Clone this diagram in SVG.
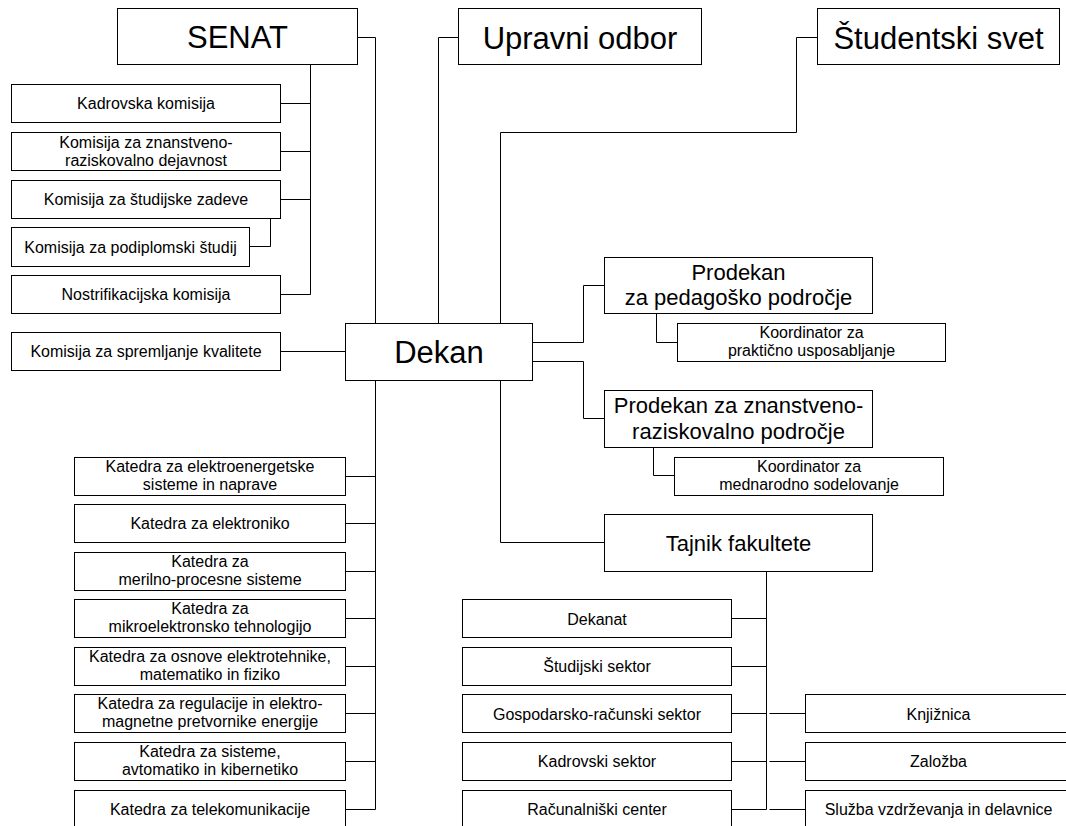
<svg xmlns="http://www.w3.org/2000/svg" width="1066" height="826" viewBox="0 0 1066 826">
<style>
.box{fill:#fff;stroke:#000;stroke-width:1}
.ln{fill:none;stroke:#000;stroke-width:1}
text{font-family:"Liberation Sans",Arial,sans-serif;fill:#000;text-anchor:middle}
.t16{font-size:16px}
.t22{font-size:22px}
.t31{font-size:31px}
</style>
<rect width="1066" height="826" fill="#fff"/>
<g id="connectors" class="ln">
<path d="M357.5,37.5H375.5V323.5"/>
<path d="M375.5,380.5V809.5"/>
<path d="M345.5,476.5H375.5M345.5,523.5H375.5M345.5,571.5H375.5M345.5,618.5H375.5M345.5,666.5H375.5M345.5,713.5H375.5M345.5,761.5H375.5M345.5,809.5H375.5"/>
<path d="M458.5,37.5H438.5V323.5"/>
<path d="M817.5,37.5H796.5V132.5H500.5V323.5"/>
<path d="M500.5,380.5V542.5H604.5"/>
<path d="M532.5,342.5H583.5V285.5H604.5"/>
<path d="M532.5,361.5H583.5V418.5H604.5"/>
<path d="M656.5,313.5V342.5H677.5"/>
<path d="M653.5,447.5V475.5H674.5"/>
<path d="M310.5,64.5V294.5"/>
<path d="M280.5,103.5H310.5M280.5,151.5H310.5M280.5,199.5H310.5M280.5,294.5H310.5"/>
<path d="M249.5,246.5H270.5V218.5"/>
<path d="M280.5,351.5H345.5"/>
<path d="M766.5,571.5V809.5"/>
<path d="M731.5,618.5H766.5M731.5,666.5H766.5M731.5,713.5H766.5M731.5,761.5H766.5M731.5,809.5H766.5"/>
<path d="M769.5,713.5H805.5M769.5,761.5H805.5M769.5,809.5H805.5"/>
</g>
<g id="senat"><rect class="box" x="117.5" y="8.5" width="240" height="56"/><text class="t31" x="237.5" y="48">SENAT</text></g>
<g id="upravni-odbor"><rect class="box" x="458.5" y="8.5" width="243" height="56"/><text class="t31" x="580" y="49">Upravni odbor</text></g>
<g id="studentski-svet"><rect class="box" x="817.5" y="8.5" width="242" height="56"/><text class="t31" x="938.5" y="49">Študentski svet</text></g>
<g id="dekan"><rect class="box" x="345.5" y="323.5" width="187" height="57"/><text class="t31" x="439" y="363">Dekan</text></g>
<g id="prodekan-ped"><rect class="box" x="604.5" y="257.5" width="268" height="56"/><text class="t22" x="738.5" y="280">Prodekan</text><text class="t22" x="738.5" y="305">za pedagoško področje</text></g>
<g id="koord-prakt"><rect class="box" x="677.5" y="323.5" width="268" height="38"/><text class="t16" x="811.5" y="338">Koordinator za</text><text class="t16" x="811.5" y="356">praktično usposabljanje</text></g>
<g id="prodekan-znan"><rect class="box" x="604.5" y="390.5" width="268" height="57"/><text class="t22" x="738.5" y="413">Prodekan za znanstveno-</text><text class="t22" x="738.5" y="439">raziskovalno področje</text></g>
<g id="koord-medn"><rect class="box" x="674.5" y="457.5" width="269" height="38"/><text class="t16" x="809" y="472">Koordinator za</text><text class="t16" x="809" y="490">mednarodno sodelovanje</text></g>
<g id="tajnik"><rect class="box" x="604.5" y="514.5" width="268" height="57"/><text class="t22" x="738.5" y="551">Tajnik fakultete</text></g>
<g id="kadrovska-komisija"><rect class="box" x="11.5" y="84.5" width="269" height="38"/><text class="t16" x="146" y="109">Kadrovska komisija</text></g>
<g id="komisija-znan"><rect class="box" x="11.5" y="132.5" width="269" height="38"/><text class="t16" x="146" y="148">Komisija za znanstveno-</text><text class="t16" x="146" y="166">raziskovalno dejavnost</text></g>
<g id="komisija-stud"><rect class="box" x="11.5" y="180.5" width="269" height="38"/><text class="t16" x="146" y="205">Komisija za študijske zadeve</text></g>
<g id="komisija-podipl"><rect class="box" x="11.5" y="227.5" width="238" height="39"/><text class="t16" x="130.5" y="253">Komisija za podiplomski študij</text></g>
<g id="nostrifikacijska"><rect class="box" x="11.5" y="275.5" width="269" height="38"/><text class="t16" x="146" y="300">Nostrifikacijska komisija</text></g>
<g id="komisija-kval"><rect class="box" x="11.5" y="332.5" width="269" height="38"/><text class="t16" x="146" y="357">Komisija za spremljanje kvalitete</text></g>
<g id="katedra-1"><rect class="box" x="74.5" y="457.5" width="271" height="38"/><text class="t16" x="210" y="472">Katedra za elektroenergetske</text><text class="t16" x="210" y="490">sisteme in naprave</text></g>
<g id="katedra-2"><rect class="box" x="74.5" y="504.5" width="271" height="38"/><text class="t16" x="210" y="529">Katedra za elektroniko</text></g>
<g id="katedra-3"><rect class="box" x="74.5" y="552.5" width="271" height="38"/><text class="t16" x="210" y="567">Katedra za</text><text class="t16" x="210" y="585">merilno-procesne sisteme</text></g>
<g id="katedra-4"><rect class="box" x="74.5" y="599.5" width="271" height="38"/><text class="t16" x="210" y="614">Katedra za</text><text class="t16" x="210" y="632">mikroelektronsko tehnologijo</text></g>
<g id="katedra-5"><rect class="box" x="74.5" y="647.5" width="271" height="38"/><text class="t16" x="210" y="662">Katedra za osnove elektrotehnike,</text><text class="t16" x="210" y="680">matematiko in fiziko</text></g>
<g id="katedra-6"><rect class="box" x="74.5" y="694.5" width="271" height="38"/><text class="t16" x="210" y="709">Katedra za regulacije in elektro-</text><text class="t16" x="210" y="727">magnetne pretvornike energije</text></g>
<g id="katedra-7"><rect class="box" x="74.5" y="742.5" width="271" height="38"/><text class="t16" x="210" y="757">Katedra za sisteme,</text><text class="t16" x="210" y="775">avtomatiko in kibernetiko</text></g>
<g id="katedra-8"><rect class="box" x="74.5" y="790.5" width="271" height="38"/><text class="t16" x="210" y="815">Katedra za telekomunikacije</text></g>
<g id="dekanat"><rect class="box" x="462.5" y="599.5" width="269" height="38"/><text class="t16" x="597" y="625">Dekanat</text></g>
<g id="studijski-sektor"><rect class="box" x="462.5" y="647.5" width="269" height="38"/><text class="t16" x="597" y="672">Študijski sektor</text></g>
<g id="gospodarsko"><rect class="box" x="462.5" y="694.5" width="269" height="38"/><text class="t16" x="597" y="720">Gospodarsko-računski sektor</text></g>
<g id="kadrovski-sektor"><rect class="box" x="462.5" y="742.5" width="269" height="38"/><text class="t16" x="597" y="767">Kadrovski sektor</text></g>
<g id="racunalniski"><rect class="box" x="462.5" y="790.5" width="269" height="38"/><text class="t16" x="597" y="815">Računalniški center</text></g>
<g id="knjiznica"><rect class="box" x="805.5" y="694.5" width="267" height="38"/><text class="t16" x="938.5" y="720">Knjižnica</text></g>
<g id="zalozba"><rect class="box" x="805.5" y="742.5" width="267" height="38"/><text class="t16" x="938.5" y="767">Založba</text></g>
<g id="sluzba"><rect class="box" x="805.5" y="790.5" width="267" height="38"/><text class="t16" x="938.5" y="815">Služba vzdrževanja in delavnice</text></g>
</svg>
